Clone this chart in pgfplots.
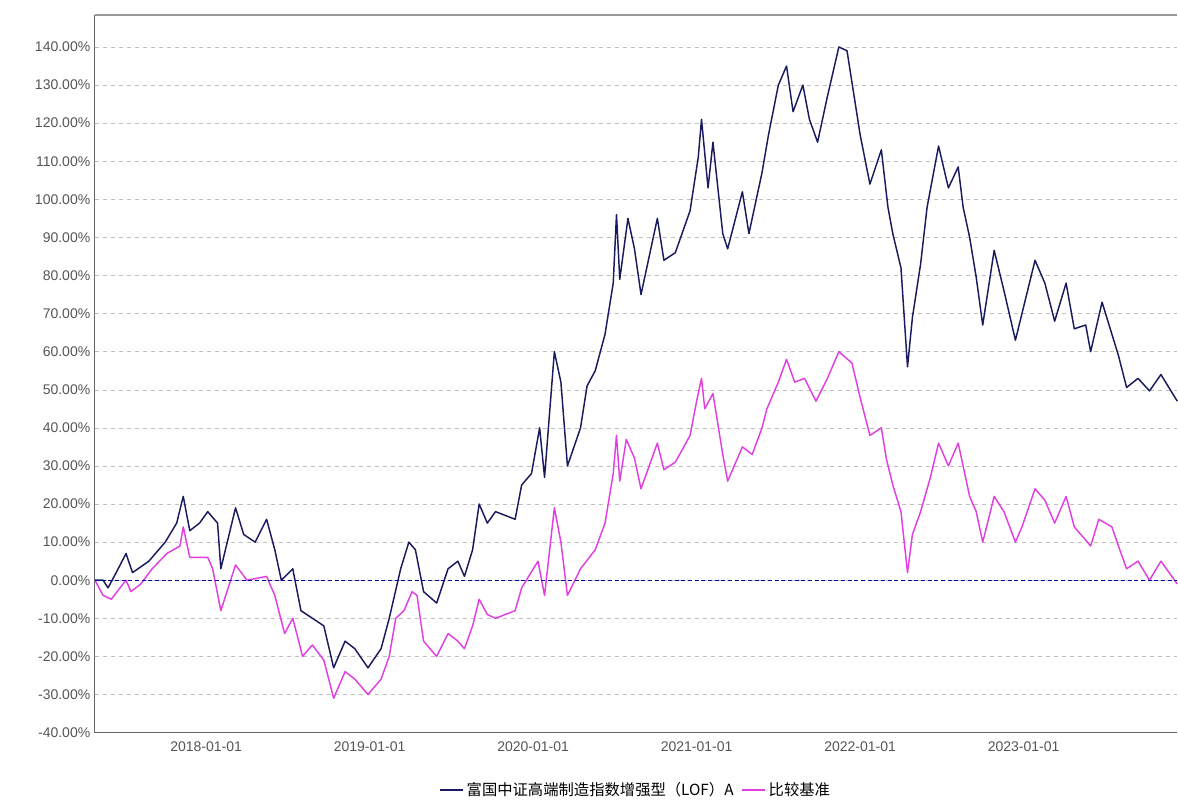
\documentclass[border=0pt]{standalone}
\usepackage{pgfplots}
\pgfplotsset{compat=1.18}
\usepackage{fontspec}
\setmainfont{Liberation Sans}
\newfontfamily\cjk{Noto Sans CJK SC}
\definecolor{fund}{HTML}{1A1A5E}
\definecolor{bench}{HTML}{E040E0}
\definecolor{tickg}{HTML}{555555}
\begin{document}
\begin{tikzpicture}
\path (-71.25pt,-51pt) rectangle (812.25pt,549.75pt);
\begin{axis}[
  scale only axis, width=812.25pt, height=538.5pt,
  xmin=2017.32, xmax=2023.94, ymin=-40, ymax=148.4,
  axis lines*=left,
  axis line style={color=gray!80!black, line width=0.8pt},
  xtick={2018,2019,2020,2021,2022,2023},
  xticklabels={2018-01-01,2019-01-01,2020-01-01,2021-01-01,2022-01-01,2023-01-01},
  ytick={-40,-30,...,140},
  yticklabel={\pgfmathprintnumber[fixed,fixed zerofill,precision=2]{\tick}\%},
  /pgf/number format/assume math mode=true,
  ticklabel style={font=\fontsize{10.5pt}{12pt}\selectfont, text=tickg},
  x tick label style={yshift=-3pt},
  tick style={draw=none},
  ymajorgrids, grid style={dashed, gray!50, line width=0.4pt},
  legend style={at={(0.5,-0.062)}, anchor=north, draw=none, font=\cjk\fontsize{11.5pt}{13pt}\selectfont, legend columns=2, /tikz/every even column/.append style={column sep=4pt}},
  legend image post style={line width=1.3pt},
  every axis plot/.append style={line width=1.1pt, line join=round},
  clip=false
]
\addplot[fund] coordinates {
(2017.32,0)(2017.37,0)(2017.40,-2)(2017.45,2)(2017.51,7)(2017.55,2)(2017.65,5)(2017.75,10)(2017.82,15)(2017.86,22)(2017.90,13)(2017.96,15)(2018.01,18)(2018.07,15)(2018.09,3)(2018.18,19)(2018.23,12)(2018.30,10)(2018.37,16)(2018.42,8)(2018.46,0)(2018.53,3)(2018.58,-8)(2018.65,-10)(2018.72,-12)(2018.78,-23)(2018.85,-16)(2018.91,-18)(2018.99,-23)(2019.07,-18)(2019.12,-10)(2019.19,3)(2019.24,10)(2019.28,8)(2019.33,-3)(2019.41,-6)(2019.48,3)(2019.54,5)(2019.58,1)(2019.63,8)(2019.67,20)(2019.72,15)(2019.77,18)(2019.89,16)(2019.93,25)(2019.99,28)(2020.04,40)(2020.07,27)(2020.13,60)(2020.17,52)(2020.21,30)(2020.29,40)(2020.33,51)(2020.38,55)(2020.44,64.6)(2020.49,78)(2020.51,96)(2020.53,79)(2020.58,95)(2020.62,87)(2020.66,75)(2020.76,95)(2020.80,84)(2020.87,86)(2020.96,97)(2021.01,111)(2021.03,121)(2021.07,103)(2021.10,115)(2021.16,91)(2021.19,87)(2021.28,102)(2021.32,91)(2021.40,107)(2021.44,117)(2021.50,130)(2021.55,135)(2021.59,123)(2021.65,130)(2021.69,121)(2021.74,115)(2021.80,127)(2021.87,140)(2021.92,139)(2021.96,128)(2022.00,117)(2022.06,104)(2022.13,113)(2022.17,98)(2022.20,91)(2022.25,82)(2022.29,56)(2022.32,69)(2022.37,83)(2022.41,98)(2022.48,114)(2022.54,103)(2022.60,108.5)(2022.63,98)(2022.67,90)(2022.71,79.6)(2022.75,67)(2022.82,86.6)(2022.88,76)(2022.95,63)(2022.99,70)(2023.07,84)(2023.13,78)(2023.19,68)(2023.26,78)(2023.31,66)(2023.38,67)(2023.41,60)(2023.48,73)(2023.54,64.6)(2023.58,59)(2023.63,50.6)(2023.70,53)(2023.77,49.7)(2023.84,54)(2023.94,47)
};
\addlegendentry{富国中证高端制造指数增强型（LOF）A}
\addplot[bench] coordinates {
(2017.32,0)(2017.37,-4)(2017.42,-5)(2017.51,0)(2017.54,-3)(2017.60,-1)(2017.67,3)(2017.76,7)(2017.84,9)(2017.86,14)(2017.90,6)(2018.01,6)(2018.04,3)(2018.09,-8)(2018.18,4)(2018.25,0)(2018.37,1)(2018.42,-4)(2018.48,-14)(2018.53,-10)(2018.59,-20)(2018.65,-17)(2018.72,-21)(2018.78,-31)(2018.85,-24)(2018.91,-26)(2018.99,-30)(2019.07,-26)(2019.12,-20)(2019.16,-10)(2019.21,-8)(2019.26,-3)(2019.29,-4)(2019.33,-16)(2019.41,-20)(2019.48,-14)(2019.54,-16)(2019.58,-18)(2019.63,-12)(2019.67,-5)(2019.72,-9)(2019.77,-10)(2019.89,-8)(2019.93,-2)(2020.03,5)(2020.07,-4)(2020.13,19)(2020.17,10)(2020.21,-4)(2020.29,3)(2020.38,8)(2020.44,15)(2020.49,28)(2020.51,38)(2020.53,26)(2020.57,37)(2020.62,32)(2020.66,24)(2020.76,36)(2020.80,29)(2020.87,31)(2020.96,38)(2021.00,47)(2021.03,53)(2021.05,45)(2021.10,49)(2021.16,33)(2021.19,26)(2021.28,35)(2021.34,33)(2021.40,40)(2021.43,45)(2021.50,52)(2021.55,58)(2021.60,52)(2021.66,53)(2021.73,47)(2021.80,53)(2021.87,60)(2021.95,57)(2022.00,48)(2022.06,38)(2022.13,40)(2022.16,32)(2022.20,25)(2022.25,18)(2022.29,2)(2022.32,12)(2022.37,18)(2022.43,27)(2022.48,36)(2022.54,30)(2022.60,36)(2022.63,30)(2022.67,22)(2022.71,18)(2022.75,10)(2022.82,22)(2022.88,18)(2022.95,10)(2022.99,14)(2023.07,24)(2023.13,21)(2023.19,15)(2023.26,22)(2023.31,14)(2023.41,9)(2023.46,16)(2023.54,14)(2023.58,9)(2023.63,3)(2023.70,5)(2023.77,0)(2023.84,5)(2023.94,-1)
};
\addlegendentry{比较基准}
\draw[blue!60!black, densely dashed, line width=0.6pt] (axis cs:2017.32,0) -- (axis cs:2023.94,0);
\draw[gray!80, line width=0.8pt] (rel axis cs:0,1) -- (rel axis cs:1,1);
\end{axis}
\end{tikzpicture}
\end{document}
